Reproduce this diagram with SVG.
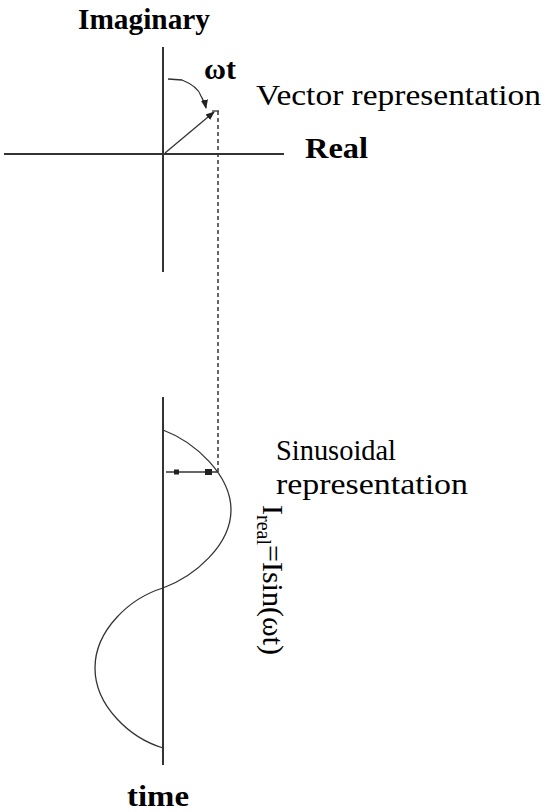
<svg xmlns="http://www.w3.org/2000/svg" width="547" height="812" viewBox="0 0 547 812">
<style>
.t{font-family:Tinos,"Liberation Serif","DejaVu Serif","Noto Serif",FreeSerif,"Times New Roman",Times,serif;fill:#000;font-size:30px}
.b{font-weight:bold}
.ax{stroke:#333;stroke-width:2;fill:none}
.thin{stroke:#333;stroke-width:1.3;fill:none}
</style>
<defs>
<marker id="ah" viewBox="0 0 10 10" refX="9" refY="5" markerWidth="9" markerHeight="9" markerUnits="userSpaceOnUse" orient="auto">
<path d="M0,1 L10,5 L0,9 Z" fill="#222"/>
</marker>
</defs>
<rect width="547" height="812" fill="#fff"/>
<g id="connectors">
<line class="ax" x1="4" y1="154" x2="284" y2="154"/>
<line class="ax" x1="163" y1="47" x2="163" y2="272"/>
<line class="ax" x1="163" y1="397" x2="163" y2="765"/>
<line class="thin" x1="165" y1="153" x2="214" y2="112" marker-end="url(#ah)"/>
<path class="thin" d="M168,79 L182,80 C192,84 199,90 201,96 C203,100 205,103 206,108" marker-end="url(#ah)"/>
<line class="thin" x1="212" y1="111" x2="219" y2="111"/>
<line x1="218" y1="111" x2="218" y2="472" stroke="#333" stroke-width="1.5" stroke-dasharray="4,3"/>
<path class="thin" d="M163,430 C195,442 231,475 231,510 C231,545 195,576 163,588 C130,598 95,630 95,668 C95,706 130,738 163,748"/>
<line class="thin" x1="166" y1="472" x2="218" y2="472"/>
<rect x="174" y="469.5" width="5" height="5" fill="#222"/>
<rect x="205" y="469" width="7" height="6" fill="#222"/>
</g>
<g id="labels">
<text class="t b" x="78" y="29" textLength="132" lengthAdjust="spacingAndGlyphs">Imaginary</text>
<text class="t b" x="204" y="79" font-size="28">ωt</text>
<text class="t" x="256" y="105" textLength="285" lengthAdjust="spacingAndGlyphs">Vector representation</text>
<text class="t b" x="305" y="158" textLength="63" lengthAdjust="spacingAndGlyphs">Real</text>
<text class="t" x="276" y="460" textLength="120" lengthAdjust="spacingAndGlyphs">Sinusoidal</text>
<text class="t" x="276" y="494" textLength="192" lengthAdjust="spacingAndGlyphs">representation</text>
<text class="t" transform="translate(263,505) rotate(90)">I<tspan font-size="20" dy="6">real</tspan><tspan dy="-6">=Isin(ωt)</tspan></text>
<text class="t b" x="127" y="806" textLength="62" lengthAdjust="spacingAndGlyphs">time</text>
</g>
</svg>
